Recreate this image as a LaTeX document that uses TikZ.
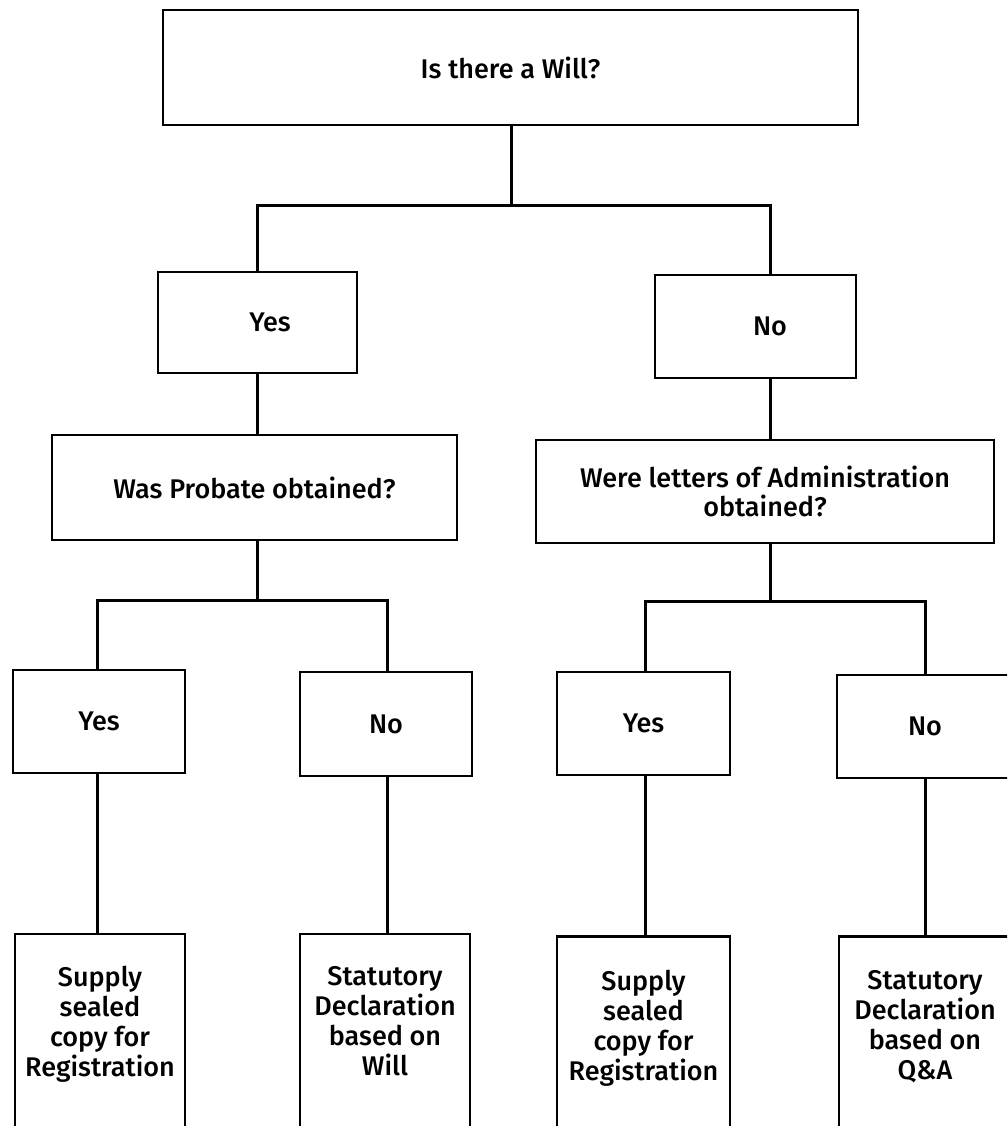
\documentclass[tikz,border=0pt]{standalone}
\usepackage{fontspec}
\setmainfont{Fira Sans}[UprightFont={* Medium}]
\begin{document}
\begin{tikzpicture}[x=1pt,y=-1pt,
  box/.style={draw=black, line width=2.5pt, rectangle, inner sep=0pt, align=center,
              font=\fontsize{27}{29}\selectfont},
  txt/.style={inner sep=0pt, align=center, font=\fontsize{27}{30}\selectfont},
  conn/.style={draw=black, line width=3pt}]
\useasboundingbox (0,0) rectangle (1007,1126);
\clip (0,0) rectangle (1007,1126);

% level 1
\node[box, minimum width=695pt, minimum height=115pt] (top) at (510.5,67.5) {Is there a Will?};
% level 2
\node[box, minimum width=199pt, minimum height=101pt] (y2) at (257.5,322.5) {\hspace*{25pt}Yes};
\node[box, minimum width=201pt, minimum height=103pt] (n2) at (755.5,326.5) {\hspace*{29pt}No};
% level 3 questions
\node[box, minimum width=405pt, minimum height=105pt] (probate) at (254.5,487.5) {Was Probate obtained?};
\node[box, minimum width=458pt, minimum height=103pt] (letters) at (765,491.5) {Were letters of Administration\\obtained?};
% level 4
\node[box, minimum width=172pt, minimum height=103pt] (yA) at (99,721.5) {Yes};
\node[box, minimum width=172pt, minimum height=104pt] (nA) at (386,724) {No};
\node[box, minimum width=173pt, minimum height=103pt] (yB) at (643.5,723.5) {Yes};
\node[box, minimum width=176pt, minimum height=103pt] (nB) at (925,726.5) {No};
% level 5 (boxes run past the bottom edge)
\node[box, anchor=north, minimum width=170pt, minimum height=300pt] (bA) at (100,932.5) {};
\node[box, anchor=north, minimum width=170pt, minimum height=300pt] (bB) at (385,932.5) {};
\node[box, anchor=north, minimum width=173pt, minimum height=300pt] (bC) at (643.5,935) {};
\node[box, anchor=north, minimum width=172pt, minimum height=300pt] (bD) at (925,935) {};
\node[txt, anchor=north] (tA) at (100,966) {Supply\\sealed\\copy for\\Registration};
\node[txt, anchor=north] (tB) at (385,966) {Statutory\\Declaration\\based on\\Will};
\node[txt, anchor=north] (tC) at (643.5,970) {Supply\\sealed\\copy for\\Registration};
\node[txt, anchor=north] (tD) at (925,970) {Statutory\\Declaration\\based on\\Q\&A};

% connectors
\coordinate (jT) at (511,205);
\coordinate (cL) at (257,0);
\coordinate (cR) at (770,0);
\coordinate (jL) at (257,600);
\coordinate (jR) at (770,601);
\coordinate (c1) at (97,0);
\coordinate (c2) at (387,0);
\coordinate (c3) at (645,0);
\coordinate (c4) at (925,0);

\draw[conn] (top.south -| jT) -- (jT);
\draw[conn] (y2.north -| cL) |- (jT) -| (n2.north -| cR);
\draw[conn] (y2.south -| cL) -- (probate.north -| cL);
\draw[conn] (n2.south -| cR) -- (letters.north -| cR);
\draw[conn] (probate.south -| jL) -- (jL);
\draw[conn] (letters.south -| jR) -- (jR);
\draw[conn] (yA.north -| c1) |- (jL) -| (nA.north -| c2);
\draw[conn] (yB.north -| c3) |- (jR) -| (nB.north -| c4);
\draw[conn] (yA.south -| c1) -- (bA.north -| c1);
\draw[conn] (nA.south -| c2) -- (bB.north -| c2);
\draw[conn] (yB.south -| c3) -- (bC.north -| c3);
\draw[conn] (nB.south -| c4) -- (bD.north -| c4);
\end{tikzpicture}
\end{document}
